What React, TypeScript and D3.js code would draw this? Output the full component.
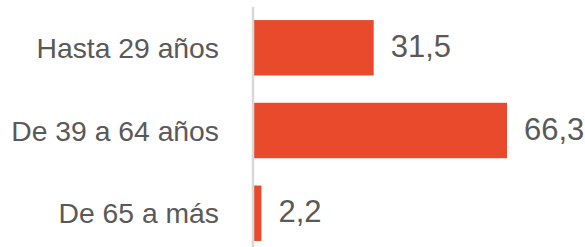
import React from 'react';
import * as d3 from 'd3';

const categories = ['Hasta 29 años', 'De 39 a 64 años', 'De 65 a más'];
const values = [31.5, 66.3, 2.2];
const valueLabels = ['31,5', '66,3', '2,2'];

const W = 585;
const H = 247;
const margin = { top: 20, right: 78, bottom: 6, left: 253 };

const App: React.FC = () => {
  const x = d3.scaleLinear().domain([0, 66.3]).range([margin.left, W - margin.right]);
  const y = d3.scaleBand<string>().domain(categories).range([margin.top - 14, H - margin.bottom + 14]).paddingInner(0.33).paddingOuter(0.17);
  const font = '"Liberation Sans", Arial, sans-serif';
  return (
    <svg width={W} height={H} style={{ position: 'absolute', left: 0, top: 0 }}>
      <rect width={W} height={H} fill="#fff" />
      {categories.map((c, i) => {
        const yc = (y(c) as number) + y.bandwidth() / 2;
        return (
          <g key={c}>
            <rect x={x(0)} y={y(c)} width={x(values[i]) - x(0)} height={y.bandwidth()} fill="#e84a2b" />
            <text x={219} y={yc + 10} textAnchor="end" fontFamily={font} fontSize={28.3} fill="#595959">{c}</text>
            <text x={x(values[i]) + 17} y={yc + 9} fontFamily={font} fontSize={31} fill="#595959">{valueLabels[i]}</text>
          </g>
        );
      })}
      <line x1={x(0)} x2={x(0)} y1={7} y2={H} stroke="#d9d9d9" strokeWidth={2.5} />
    </svg>
  );
};

export default App;
